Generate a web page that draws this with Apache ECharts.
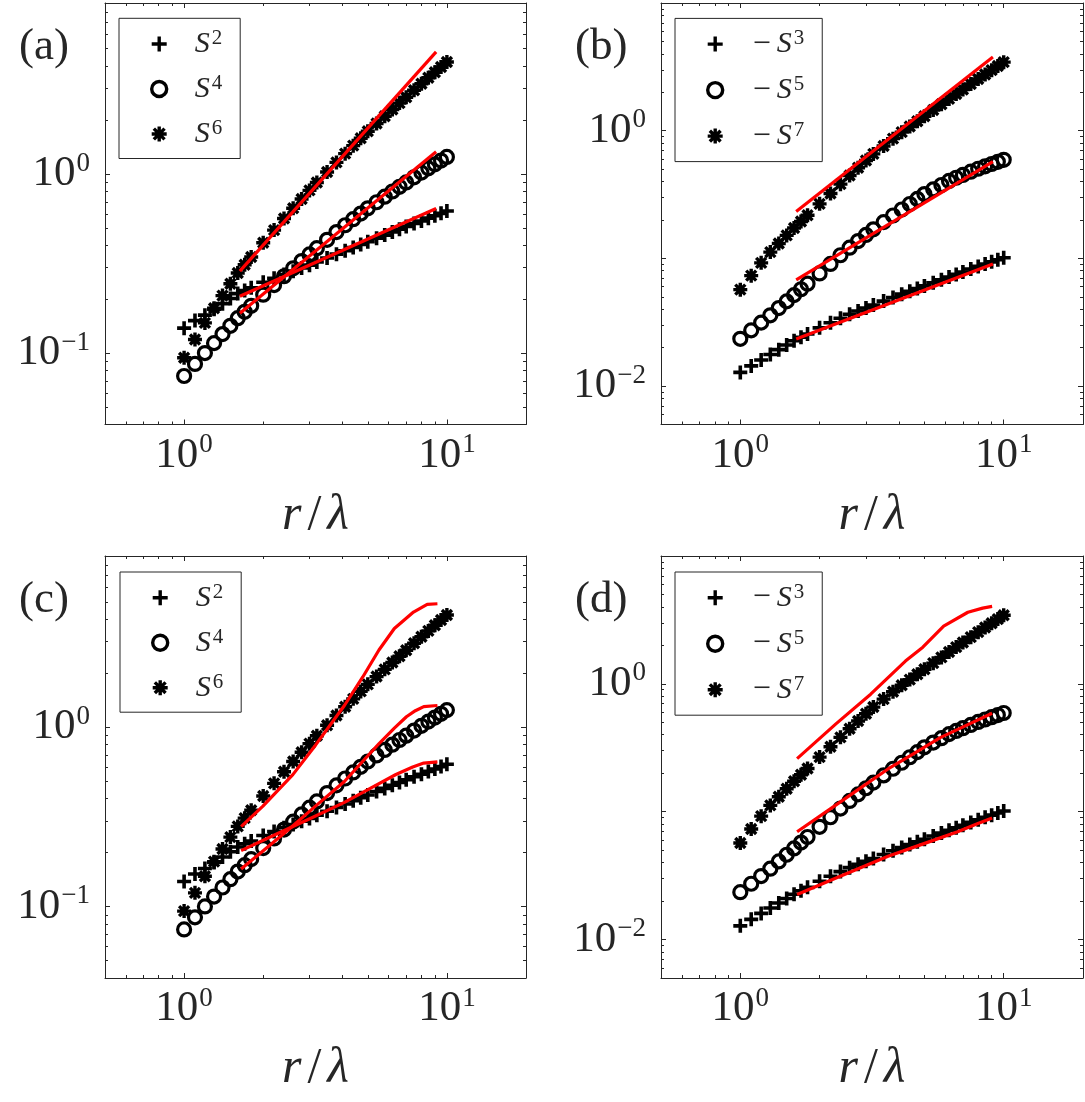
<!DOCTYPE html>
<html>
<head>
<meta charset="utf-8">
<script src="https://cdn.jsdelivr.net/npm/echarts@6/dist/echarts.min.js"></script>
<style>
  html, body { margin: 0; padding: 0; background: #ffffff; }
  #chart { width: 1085px; height: 1102px; }
</style>
</head>
<body>
<div id="chart"></div>
<script>
// ---- structure-function data: separation r/lambda and moments ----
const rOverLambda = [1, 1.1, 1.2, 1.3, 1.4, 1.5, 1.6, 1.7, 1.8, 2, 2.2, 2.4, 2.6, 2.8, 3, 3.2, 3.5, 3.8,
  4.1, 4.4, 4.7, 5, 5.4, 5.8, 6.2, 6.6, 7, 7.5, 8, 8.5, 9, 9.5, 10];

// even orders
const S2 = [0.138, 0.152, 0.163, 0.176, 0.189, 0.202, 0.215, 0.224, 0.232, 0.249, 0.262, 0.275, 0.287, 0.299,
  0.310, 0.323, 0.340, 0.357, 0.373, 0.389, 0.404, 0.419, 0.438, 0.456, 0.475, 0.492, 0.509, 0.529, 0.547, 0.567,
  0.585, 0.603, 0.621];
const S4 = [0.0746, 0.0871, 0.1002, 0.1138, 0.1278, 0.1422, 0.1568, 0.1702, 0.1839, 0.2120, 0.2399, 0.2687, 0.2977,
  0.3266, 0.3558, 0.3855, 0.4294, 0.4740, 0.5176, 0.5595, 0.6014, 0.6437, 0.6957, 0.7468, 0.7987, 0.8483, 0.8971,
  0.9579, 1.018, 1.075, 1.132, 1.188, 1.245];
const S6 = [0.0944, 0.1193, 0.1476, 0.1781, 0.2096, 0.2440, 0.2800, 0.3113, 0.3442, 0.4137, 0.4864, 0.5640, 0.6442,
  0.7254, 0.8098, 0.8968, 1.026, 1.161, 1.299, 1.439, 1.583, 1.733, 1.915, 2.101, 2.292, 2.486, 2.683, 2.935, 3.191,
  3.442, 3.697, 3.955, 4.217];

// odd orders (plotted as -S^p)
const negS3 = [0.01279, 0.01438, 0.01601, 0.01765, 0.01929, 0.02096, 0.02261, 0.02409, 0.02558, 0.02858, 0.03128,
  0.03397, 0.03648, 0.03871, 0.04090, 0.04306, 0.04626, 0.04941, 0.05244, 0.05529, 0.05809, 0.06086, 0.06446,
  0.06801, 0.07149, 0.07491, 0.07831, 0.08247, 0.08654, 0.09028, 0.09395, 0.09759, 0.1012];
const negS5 = [0.02344, 0.02730, 0.03138, 0.03583, 0.04080, 0.04604, 0.05155, 0.05730, 0.06335, 0.07618, 0.09045,
  0.1058, 0.1213, 0.1366, 0.1525, 0.1688, 0.1922, 0.2166, 0.2415, 0.2666, 0.2922, 0.3188, 0.3471, 0.3755, 0.4042,
  0.4281, 0.4500, 0.4772, 0.5036, 0.5261, 0.5483, 0.5701, 0.5916];
const negS7 = [0.05689, 0.07323, 0.09224, 0.1120, 0.1308, 0.1513, 0.1730, 0.1947, 0.2177, 0.2673, 0.3220, 0.3814,
  0.4451, 0.5125, 0.5841, 0.6580, 0.7597, 0.8665, 0.9741, 1.079, 1.187, 1.299, 1.452, 1.610, 1.774, 1.938, 2.104,
  2.318, 2.537, 2.756, 2.980, 3.209, 3.443];

// power-law fits, panels (a) and (b)
const fitR = [1.63, 9.1];
const fitS2 = [0.208, 0.642];
const fitS4 = [0.167, 1.33];
const fitS6 = [0.287, 4.8];
const fitNegS3 = [0.0234, 0.0902];
const fitNegS5 = [0.068, 0.573];
const fitNegS7 = [0.233, 3.78];

// model predictions, panel (c)
const modelS2R = [1.648, 2.239, 3.020, 4.074, 5.129, 6.397, 7.413, 8.166, 9.204];
const modelS2 = [0.205, 0.253, 0.310, 0.381, 0.457, 0.545, 0.600, 0.631, 0.641];
const modelS4R = [1.648, 1.995, 2.512, 3.162, 4.074, 4.786, 5.521, 6.310, 7.015, 7.586, 8.166, 9.204];
const modelS4 = [0.162, 0.204, 0.271, 0.363, 0.498, 0.646, 0.811, 0.989, 1.143, 1.236, 1.303, 1.321];
const modelS6R = [1.648, 1.995, 2.593, 3.162, 4.074, 4.786, 5.514, 6.310, 7.464, 8.414, 9.204];
const modelS6 = [0.279, 0.363, 0.544, 0.794, 1.321, 1.905, 2.692, 3.548, 4.385, 4.842, 4.875];
// model predictions, panel (d)
const modelNegS3R = [1.643, 2.239, 2.818, 3.639, 5.012, 6.683, 7.943, 9.036];
const modelNegS3 = [0.02249, 0.02944, 0.03597, 0.04487, 0.05649, 0.06966, 0.08035, 0.0893];
const modelNegS5R = [1.643, 2.239, 2.818, 3.639, 4.571, 5.741, 7.244, 9.036];
const modelNegS5 = [0.0697, 0.1081, 0.1500, 0.2158, 0.2864, 0.3793, 0.4753, 0.5888];
const modelNegS7R = [1.643, 2.307, 3.126, 4.236, 4.932, 5.916, 7.311, 8.318, 9.036];
const modelNegS7 = [0.260, 0.486, 0.830, 1.507, 1.936, 2.825, 3.631, 3.908, 4.036];

// axis limits and ticks
const xRange = [0.5, 20];
const yRangeEven = [0.04, 9];
const yRangeOdd = [0.005, 10];
const xMajorTicks = [1, 10];
const xMinorTicks = [0.6, 0.7, 0.8, 0.9, 2, 3, 4, 5, 6, 7, 8, 9];
const yEvenLabels = [0.1, 1];
const yEvenMajorTicks = [0.1, 1];
const yEvenMinorTicks = [0.05, 0.06, 0.07, 0.08, 0.09, 0.2, 0.3, 0.4, 0.5, 0.6, 0.7, 0.8, 0.9, 2, 3, 4, 5, 6, 7, 8];
const yOddLabels = [0.01, 1];
const yOddMajorTicks = [0.01, 0.1, 1];
const yOddMinorTicks = [0.006, 0.007, 0.008, 0.009, 0.02, 0.03, 0.04, 0.05, 0.06, 0.07, 0.08, 0.09,
  0.2, 0.3, 0.4, 0.5, 0.6, 0.7, 0.8, 0.9, 2, 3, 4, 5, 6, 7, 8, 9];

const panelLetters = ['(a)', '(b)', '(c)', '(d)'];

// ---- styling ----
const FONT = "'Liberation Serif', 'Times New Roman', serif";
const INK = '#262626';
const PLUS = 'path://M0,7L14,7M7,0L7,14';
const STAR = 'path://M0,7L14,7M7,0L7,14M2,2L12,12M2,12L12,2';

const grids = [
  { left: 105, top: 3, width: 421, height: 421.5 },
  { left: 661, top: 3, width: 422, height: 421.5 },
  { left: 105, top: 556, width: 421, height: 422 },
  { left: 661, top: 556, width: 422, height: 422 }
];

function powerLabel(v) {
  const e = Math.round(Math.log10(v));
  return '{b|10}{e|' + (e < 0 ? '\u2212' + (-e) : String(e)) + '}';
}
const labelRich = {
  b: { fontFamily: FONT, fontSize: 43, lineHeight: 48, color: INK },
  e: { fontFamily: FONT, fontSize: 27, lineHeight: 32, verticalAlign: 'top', color: INK, padding: [0, 0, 0, 1] }
};

function buildAxes(dim, gi, range, labels, major, minor) {
  const base = {
    type: 'log', logBase: 10, gridIndex: gi, min: range[0], max: range[1],
    splitLine: { show: false }, minorTick: { show: false }, minorSplitLine: { show: false },
    axisPointer: { show: false }, silent: true, z: 5
  };
  const sides = dim === 'x' ? ['bottom', 'top'] : ['left', 'right'];
  const out = [];
  sides.forEach(function (side, k) {
    out.push(Object.assign({}, base, {
      position: side,
      axisLine: { show: true, onZero: false, lineStyle: { color: INK, width: 1 } },
      axisTick: { show: true, inside: true, length: 5, customValues: major, lineStyle: { color: INK, width: 1 } },
      axisLabel: k === 0
        ? { show: true, customValues: labels, formatter: powerLabel, rich: labelRich, margin: dim === 'x' ? 7 : 15 }
        : { show: false }
    }));
    out.push(Object.assign({}, base, {
      position: side,
      axisLine: { show: false, onZero: false },
      axisTick: { show: true, inside: true, length: 3, customValues: minor, lineStyle: { color: INK, width: 1 } },
      axisLabel: { show: false }
    }));
  });
  if (dim === 'x') {
    Object.assign(out[0], {
      name: '{i|r}{n|/}{i|\u03bb}',
      nameLocation: 'middle',
      nameGap: 64,
      nameTextStyle: {
        rich: {
          i: { fontFamily: FONT, fontStyle: 'italic', fontSize: 50, lineHeight: 54, color: INK },
          n: { fontFamily: FONT, fontSize: 50, lineHeight: 54, color: INK, padding: [0, 6, 0, 6] }
        }
      }
    });
  }
  return out;
}

const xAxes = [];
const yAxes = [];
for (let g = 0; g < 4; g++) {
  const odd = g % 2 === 1;
  xAxes.push.apply(xAxes, buildAxes('x', g, xRange, xMajorTicks, xMajorTicks, xMinorTicks));
  yAxes.push.apply(yAxes, odd
    ? buildAxes('y', g, yRangeOdd, yOddLabels, yOddMajorTicks, yOddMinorTicks)
    : buildAxes('y', g, yRangeEven, yEvenLabels, yEvenMajorTicks, yEvenMinorTicks));
}

function pairs(xs, ys) { return xs.map(function (x, i) { return [x, ys[i]]; }); }

const markerLook = {};
markerLook[PLUS] = { size: 14, width: 3.6 };
markerLook[STAR] = { size: 14, width: 3.4 };
markerLook.circle = { size: 13, width: 3.2 };

function markerSeries(name, g, symbol, ys) {
  const look = markerLook[symbol];
  return {
    type: 'scatter', name: name, xAxisIndex: g * 4, yAxisIndex: g * 4,
    data: pairs(rOverLambda, ys), symbol: symbol, symbolSize: look.size, silent: true, z: 2,
    itemStyle: { color: 'none', borderColor: '#000000', borderWidth: look.width, opacity: 1 }
  };
}
function redSeries(g, xs, ys) {
  return {
    type: 'line', xAxisIndex: g * 4, yAxisIndex: g * 4, data: pairs(xs, ys),
    showSymbol: false, symbol: 'none', silent: true, z: 3, smooth: false,
    lineStyle: { color: '#ff0000', width: 3.2, cap: 'butt', join: 'round' }
  };
}

const legendText = {
  a2: '{s0|S}{p|2}', a4: '{s0|S}{p|4}', a6: '{s0|S}{p|6}',
  b3: '{m|\u2212}{s|S}{p|3}', b5: '{m|\u2212}{s|S}{p|5}', b7: '{m|\u2212}{s|S}{p|7}',
  c2: '{s0|S}{p|2}', c4: '{s0|S}{p|4}', c6: '{s0|S}{p|6}',
  d3: '{m|\u2212}{s|S}{p|3}', d5: '{m|\u2212}{s|S}{p|5}', d7: '{m|\u2212}{s|S}{p|7}'
};

const series = [
  markerSeries('a2', 0, PLUS, S2), markerSeries('a4', 0, 'circle', S4), markerSeries('a6', 0, STAR, S6),
  redSeries(0, fitR, fitS2), redSeries(0, fitR, fitS4), redSeries(0, fitR, fitS6),
  markerSeries('b3', 1, PLUS, negS3), markerSeries('b5', 1, 'circle', negS5), markerSeries('b7', 1, STAR, negS7),
  redSeries(1, fitR, fitNegS3), redSeries(1, fitR, fitNegS5), redSeries(1, fitR, fitNegS7),
  markerSeries('c2', 2, PLUS, S2), markerSeries('c4', 2, 'circle', S4), markerSeries('c6', 2, STAR, S6),
  redSeries(2, modelS2R, modelS2), redSeries(2, modelS4R, modelS4), redSeries(2, modelS6R, modelS6),
  markerSeries('d3', 3, PLUS, negS3), markerSeries('d5', 3, 'circle', negS5), markerSeries('d7', 3, STAR, negS7),
  redSeries(3, modelNegS3R, modelNegS3), redSeries(3, modelNegS5R, modelNegS5), redSeries(3, modelNegS7R, modelNegS7)
];

const legendRich = {
  s0: { fontFamily: FONT, fontStyle: 'italic', fontSize: 30, lineHeight: 32, color: INK, padding: [0, 0, 0, 23] },
  s: { fontFamily: FONT, fontStyle: 'italic', fontSize: 30, lineHeight: 32, color: INK },
  p: { fontFamily: FONT, fontSize: 21, lineHeight: 14, verticalAlign: 'top', color: INK, padding: [0, 0, 0, 2] },
  m: { fontFamily: FONT, fontSize: 32, lineHeight: 32, color: INK, padding: [0, 6, 0, 25] }
};
function legendBox(names, left, top) {
  return {
    data: names, orient: 'vertical', left: left, top: top, selectedMode: false,
    itemWidth: 15, itemHeight: 15, itemGap: 14,
    padding: [9.7, 18, 9.5, 30.2],
    borderColor: INK, borderWidth: 1, backgroundColor: '#ffffff',
    itemStyle: { borderWidth: 3.4, borderColor: '#000000' },
    formatter: function (n) { return legendText[n]; },
    textStyle: { rich: legendRich }
  };
}

const titles = panelLetters.map(function (t, i) {
  return {
    text: t, left: i % 2 === 0 ? 19 : 575, top: i < 2 ? 25 : 578, padding: 0,
    textStyle: { fontFamily: FONT, fontSize: 45, lineHeight: 45, fontWeight: 'normal', color: INK }
  };
});

const chart = echarts.init(document.getElementById('chart'), null, { renderer: 'canvas' });
chart.setOption({
  animation: false,
  backgroundColor: '#ffffff',
  title: titles,
  grid: grids,
  xAxis: xAxes,
  yAxis: yAxes,
  legend: [
    legendBox(['a2', 'a4', 'a6'], 119, 18.3),
    legendBox(['b3', 'b5', 'b7'], 675, 18.4),
    legendBox(['c2', 'c4', 'c6'], 120, 572),
    legendBox(['d3', 'd5', 'd7'], 675, 572)
  ],
  series: series
});
</script>
</body>
</html>
